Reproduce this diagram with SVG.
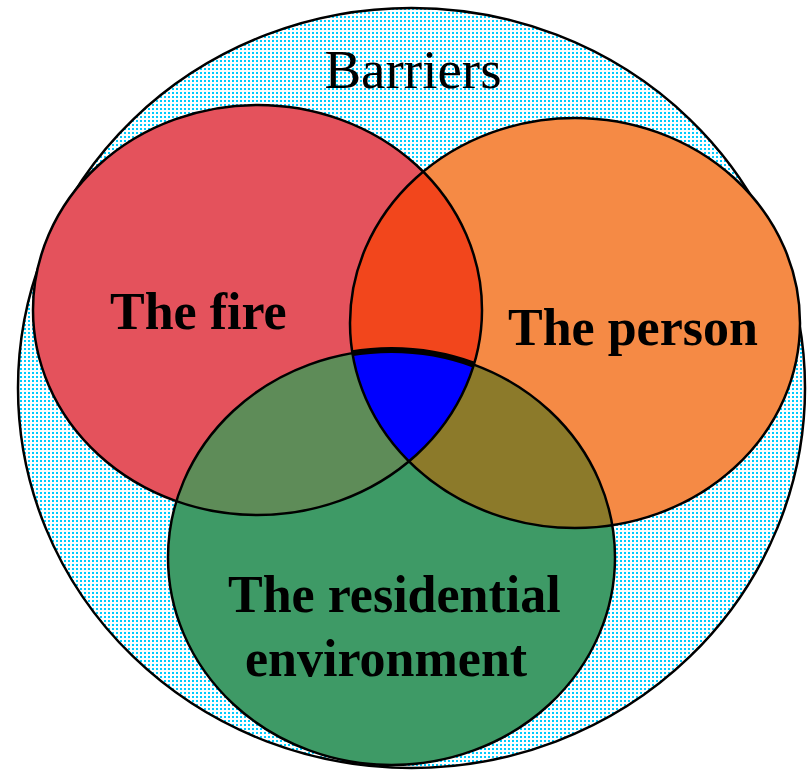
<svg xmlns="http://www.w3.org/2000/svg" width="807" height="770" viewBox="0 0 807 770">
<style>
.outline{fill:none;stroke:#000;stroke-width:2.5}
.lbl{font-family:"Liberation Serif","Times New Roman",serif;font-weight:bold;font-size:52px;fill:#000}
.title{font-family:"Liberation Serif","Times New Roman",serif;font-weight:normal;font-size:55px;fill:#000}
</style>
<defs>
<pattern id="bgPat" width="4" height="4" patternUnits="userSpaceOnUse">
<rect width="4" height="4" fill="#fff"/><rect width="2" height="2" fill="#00CCFF"/>
</pattern>
<clipPath id="clipFire"><ellipse cx="257.5" cy="310" rx="224.5" ry="205"/></clipPath>
<clipPath id="clipPerson"><ellipse cx="575" cy="323" rx="225" ry="205"/></clipPath>
</defs>

<g id="barriers">
<ellipse cx="411.5" cy="388" rx="393.5" ry="380" fill="url(#bgPat)"/>
<ellipse class="outline" cx="411.5" cy="388" rx="393.5" ry="380"/>
<text class="title" x="413" y="88" text-anchor="middle">Barriers</text>
</g>

<g id="fire">
<ellipse cx="257.5" cy="310" rx="224.5" ry="205" fill="#E4525C"/>
</g>
<g id="person">
<ellipse cx="575" cy="323" rx="225" ry="205" fill="#F58A45"/>
</g>
<g id="overlap-fire-person" clip-path="url(#clipFire)">
<ellipse cx="575" cy="323" rx="225" ry="205" fill="#F2461C"/>
</g>
<g id="residential">
<ellipse cx="391.5" cy="557.5" rx="223.5" ry="207.5" fill="#3E9A66"/>
</g>
<g id="overlap-fire-residential" clip-path="url(#clipFire)">
<ellipse cx="391.5" cy="557.5" rx="223.5" ry="207.5" fill="#5E8C58"/>
</g>
<g id="overlap-person-residential" clip-path="url(#clipPerson)">
<ellipse cx="391.5" cy="557.5" rx="223.5" ry="207.5" fill="#8C7A2A"/>
</g>
<g id="overlap-all" clip-path="url(#clipFire)">
<g clip-path="url(#clipPerson)">
<ellipse cx="391.5" cy="557.5" rx="223.5" ry="207.5" fill="#0000FF" stroke="#000" stroke-width="6"/>
</g>
</g>

<g id="outlines">
<ellipse class="outline" cx="257.5" cy="310" rx="224.5" ry="205"/>
<ellipse class="outline" cx="575" cy="323" rx="225" ry="205"/>
<ellipse class="outline" cx="391.5" cy="557.5" rx="223.5" ry="207.5"/>
</g>

<g id="labels">
<text class="lbl" x="110" y="329">The fire</text>
<text class="lbl" x="508" y="345">The person</text>
<text class="lbl" x="228" y="612">The residential</text>
<text class="lbl" x="245" y="676">environment</text>
</g>
</svg>
